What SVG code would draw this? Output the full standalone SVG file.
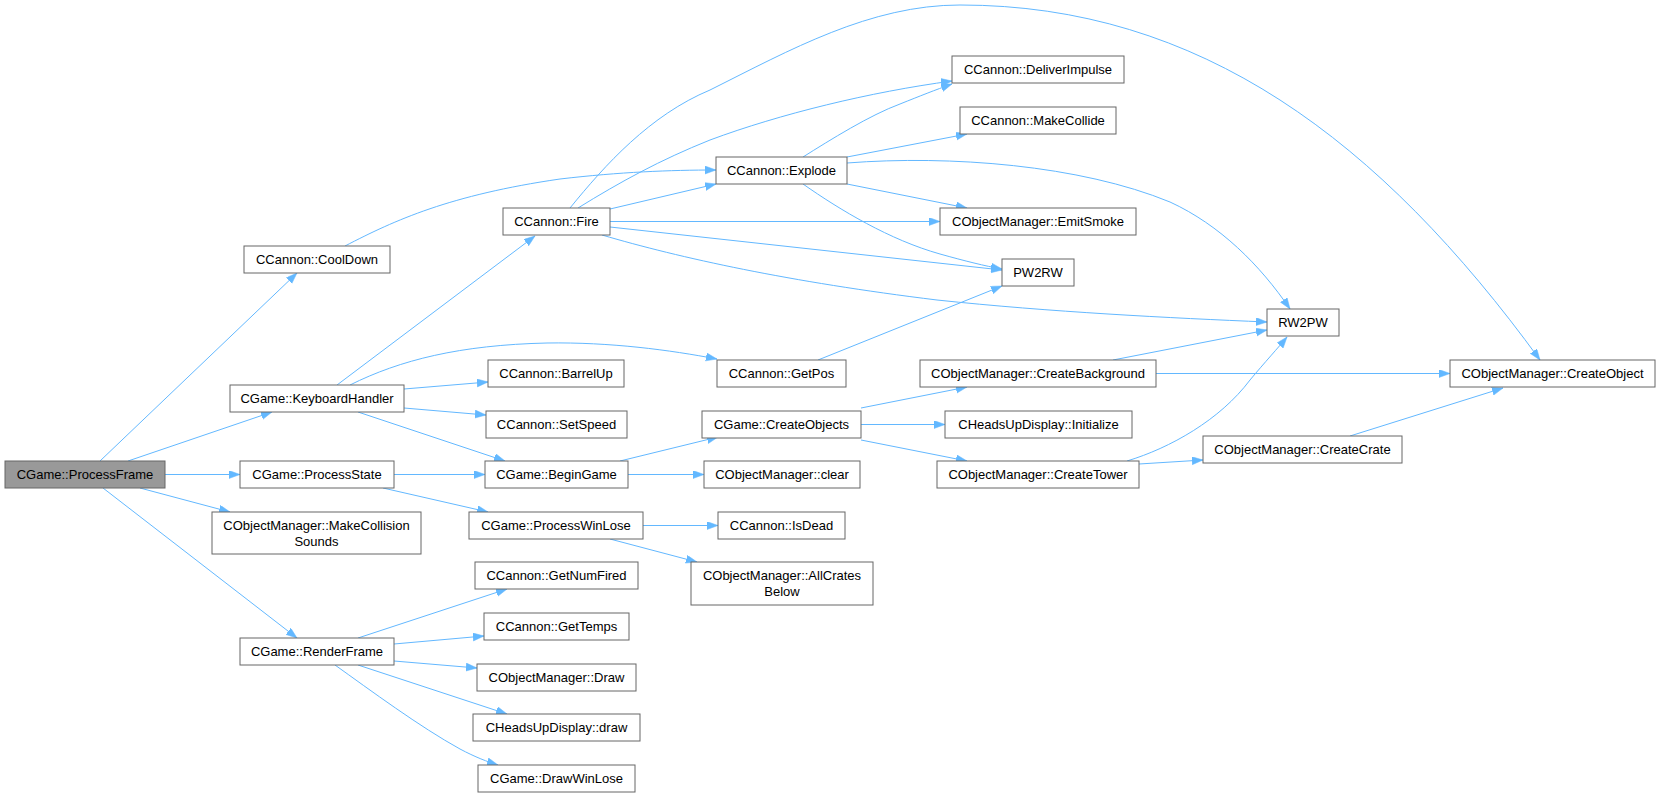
<svg xmlns="http://www.w3.org/2000/svg" width="1660" height="797" viewBox="0 0 1660 797">
<defs>
<style>
.n rect{fill:#ffffff;stroke:#666666;stroke-width:1}
.n.root rect{fill:#999999}
.n text{font-family:"Liberation Sans",Arial,sans-serif;font-size:13px;fill:#000000;text-anchor:middle}
#edges path{fill:none;stroke:#63b8ff;stroke-width:1;marker-end:url(#ah)}
</style>
<marker id="ah" markerUnits="userSpaceOnUse" markerWidth="12" markerHeight="9" refX="11" refY="4" orient="auto">
<path d="M0,0 L11,4 L0,8 z" fill="#63b8ff" stroke="#63b8ff" stroke-width="0.5"/>
</marker>
</defs>
<rect x="0" y="0" width="1660" height="797" fill="#ffffff"/>
<g id="edges">
<path d="M100,461 L297,273"/>
<path d="M128,461 L272,412"/>
<path d="M165,474.5 L240,474.5"/>
<path d="M140,488 L230,512"/>
<path d="M103,488 L297,638"/>
<path d="M345,246 C395,220 450,195 560,179 C620,172 670,170 716,170"/>
<path d="M337,385 L535,236"/>
<path d="M350,385 C400,360 460,345 547,343 C610,342 670,350 717,359"/>
<path d="M404,389 L488,382"/>
<path d="M404,408 L486,415"/>
<path d="M358,412 L505,461"/>
<path d="M394,474.5 L485,474.5"/>
<path d="M383,488 L488,512"/>
<path d="M610,209 L716,184"/>
<path d="M578,208 C620,182 660,160 710,140 C780,114 870,92 952,81"/>
<path d="M570,208 C605,165 650,115 710,90 C790,50 870,5 960,5 C1200,5 1380,140 1540,360"/>
<path d="M803,157 C830,140 870,115 900,104 C920,96 935,90 952,84"/>
<path d="M847,157 L967,134"/>
<path d="M847,163 C950,155 1080,165 1170,202 C1220,225 1260,265 1290,309"/>
<path d="M847,184 L967,208"/>
<path d="M803,184 C840,210 890,240 940,254 C965,261 985,266 1002,269"/>
<path d="M610,221.5 L940,221.5"/>
<path d="M610,227 L1002,270"/>
<path d="M602,235 C680,258 790,282 937,300 C1050,312 1170,318 1267,322"/>
<path d="M818,360 L1002,286"/>
<path d="M620,461 L718,437"/>
<path d="M628,474.5 L704,474.5"/>
<path d="M861,408 L967,387"/>
<path d="M861,424.5 L945,424.5"/>
<path d="M861,440 L967,461"/>
<path d="M1113,360 L1267,330"/>
<path d="M1156,373.5 L1450,373.5"/>
<path d="M1127,461 C1170,448 1220,420 1250,380 C1265,362 1278,348 1287,337"/>
<path d="M1139,464 L1203,460"/>
<path d="M1350,436 L1503,388"/>
<path d="M643,525.5 L718,525.5"/>
<path d="M610,539 L697,562"/>
<path d="M358,638 L507,589"/>
<path d="M394,644 L484,636"/>
<path d="M394,661 L477,668"/>
<path d="M358,665 L507,714"/>
<path d="M335,665 C370,690 420,727 460,749 C475,757 488,762 498,765"/>
</g>
<g id="ProcessFrame" class="n root"><rect x="5" y="461" width="160" height="27"/><text x="85" y="479">CGame::ProcessFrame</text></g>
<g id="CoolDown" class="n"><rect x="244" y="246" width="146" height="27"/><text x="317" y="264">CCannon::CoolDown</text></g>
<g id="KeyboardHandler" class="n"><rect x="230" y="385" width="174" height="27"/><text x="317" y="403">CGame::KeyboardHandler</text></g>
<g id="ProcessState" class="n"><rect x="240" y="461" width="154" height="27"/><text x="317" y="479">CGame::ProcessState</text></g>
<g id="MakeCollisionSounds" class="n"><rect x="212" y="512" width="209" height="42"/><text x="316.5" y="530">CObjectManager::MakeCollision</text><text x="316.5" y="546">Sounds</text></g>
<g id="RenderFrame" class="n"><rect x="240" y="638" width="154" height="27"/><text x="317" y="656">CGame::RenderFrame</text></g>
<g id="Fire" class="n"><rect x="503" y="208" width="107" height="27"/><text x="556.5" y="226">CCannon::Fire</text></g>
<g id="Explode" class="n"><rect x="716" y="157" width="131" height="27"/><text x="781.5" y="175">CCannon::Explode</text></g>
<g id="BarrelUp" class="n"><rect x="488" y="360" width="136" height="27"/><text x="556" y="378">CCannon::BarrelUp</text></g>
<g id="GetPos" class="n"><rect x="717" y="360" width="129" height="27"/><text x="781.5" y="378">CCannon::GetPos</text></g>
<g id="SetSpeed" class="n"><rect x="486" y="411" width="141" height="27"/><text x="556.5" y="429">CCannon::SetSpeed</text></g>
<g id="CreateObjects" class="n"><rect x="702" y="411" width="159" height="27"/><text x="781.5" y="429">CGame::CreateObjects</text></g>
<g id="BeginGame" class="n"><rect x="485" y="461" width="143" height="27"/><text x="556.5" y="479">CGame::BeginGame</text></g>
<g id="clear" class="n"><rect x="704" y="461" width="156" height="27"/><text x="782" y="479">CObjectManager::clear</text></g>
<g id="ProcessWinLose" class="n"><rect x="469" y="512" width="174" height="27"/><text x="556" y="530">CGame::ProcessWinLose</text></g>
<g id="IsDead" class="n"><rect x="718" y="512" width="127" height="27"/><text x="781.5" y="530">CCannon::IsDead</text></g>
<g id="AllCratesBelow" class="n"><rect x="691" y="562" width="182" height="43"/><text x="782" y="580">CObjectManager::AllCrates</text><text x="782" y="596">Below</text></g>
<g id="GetNumFired" class="n"><rect x="475" y="562" width="163" height="27"/><text x="556.5" y="580">CCannon::GetNumFired</text></g>
<g id="GetTemps" class="n"><rect x="484" y="613" width="145" height="27"/><text x="556.5" y="631">CCannon::GetTemps</text></g>
<g id="Draw" class="n"><rect x="477" y="664" width="159" height="27"/><text x="556.5" y="682">CObjectManager::Draw</text></g>
<g id="HUDdraw" class="n"><rect x="473" y="714" width="167" height="27"/><text x="556.5" y="732">CHeadsUpDisplay::draw</text></g>
<g id="DrawWinLose" class="n"><rect x="478" y="765" width="157" height="27"/><text x="556.5" y="783">CGame::DrawWinLose</text></g>
<g id="DeliverImpulse" class="n"><rect x="952" y="56" width="172" height="27"/><text x="1038" y="74">CCannon::DeliverImpulse</text></g>
<g id="MakeCollide" class="n"><rect x="960" y="107" width="156" height="27"/><text x="1038" y="125">CCannon::MakeCollide</text></g>
<g id="EmitSmoke" class="n"><rect x="940" y="208" width="196" height="27"/><text x="1038" y="226">CObjectManager::EmitSmoke</text></g>
<g id="PW2RW" class="n"><rect x="1002" y="259" width="72" height="27"/><text x="1038" y="277">PW2RW</text></g>
<g id="CreateBackground" class="n"><rect x="920" y="360" width="236" height="27"/><text x="1038" y="378">CObjectManager::CreateBackground</text></g>
<g id="Initialize" class="n"><rect x="945" y="411" width="187" height="27"/><text x="1038.5" y="429">CHeadsUpDisplay::Initialize</text></g>
<g id="CreateTower" class="n"><rect x="937" y="461" width="202" height="27"/><text x="1038" y="479">CObjectManager::CreateTower</text></g>
<g id="RW2PW" class="n"><rect x="1267" y="309" width="72" height="27"/><text x="1303" y="327">RW2PW</text></g>
<g id="CreateCrate" class="n"><rect x="1203" y="436" width="199" height="27"/><text x="1302.5" y="454">CObjectManager::CreateCrate</text></g>
<g id="CreateObject" class="n"><rect x="1450" y="360" width="205" height="27"/><text x="1552.5" y="378">CObjectManager::CreateObject</text></g>
</svg>
